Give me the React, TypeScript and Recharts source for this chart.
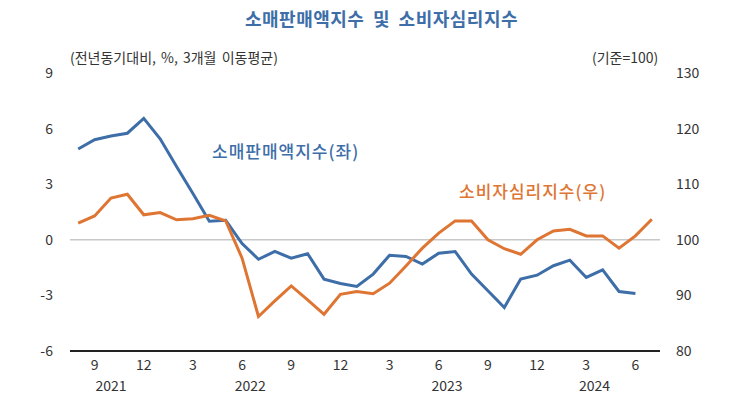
import { LineChart, Line, XAxis, YAxis, ReferenceLine } from 'recharts'

// monthly categories, Aug 2021 .. Jul 2024
const months = [
  '2021.08', '2021.09', '2021.10', '2021.11', '2021.12',
  '2022.01', '2022.02', '2022.03', '2022.04', '2022.05', '2022.06',
  '2022.07', '2022.08', '2022.09', '2022.10', '2022.11', '2022.12',
  '2023.01', '2023.02', '2023.03', '2023.04', '2023.05', '2023.06',
  '2023.07', '2023.08', '2023.09', '2023.10', '2023.11', '2023.12',
  '2024.01', '2024.02', '2024.03', '2024.04', '2024.05', '2024.06',
  '2024.07',
]

// 소매판매액지수 (전년동기대비 %, 3개월 이동평균) - left axis
const retailSales = [
  4.9, 5.4, 5.6, 5.75, 6.55,
  5.45, 3.95, 2.5, 1.0, 1.05, -0.2,
  -1.05, -0.63, -0.99, -0.75, -2.12, -2.36,
  -2.52, -1.85, -0.83, -0.9, -1.31, -0.72,
  -0.63, -1.85, -2.75, -3.65, -2.12, -1.91,
  -1.4, -1.1, -2.03, -1.62, -2.79, -2.9,
  null,
]

// 소비자심리지수 (기준=100) - right axis
const consumerSentiment = [
  103.0, 104.3, 107.5, 108.2, 104.5,
  104.9, 103.6, 103.8, 104.4, 103.4, 96.7,
  86.2, 89.0, 91.7, 89.2, 86.6, 90.2,
  90.7, 90.3, 92.2, 95.3, 98.5, 101.2,
  103.4, 103.4, 100.0, 98.4, 97.4, 100.0,
  101.6, 101.9, 100.7, 100.7, 98.5, 100.7,
  103.7,
]

const leftTicks = [-6, -3, 0, 3, 6, 9]
const rightTicks = [80, 90, 100, 110, 120, 130]

const data = months.map((m, i) => ({
  month: m,
  retail: retailSales[i],
  sentiment: consumerSentiment[i],
}))

const W = 747
const H = 418
const LEFT_W = 70
const RIGHT_W = 87
const BAND = (W - LEFT_W - RIGHT_W) / months.length

const KR = '"Noto Sans CJK KR", "Noto Sans", sans-serif'
const BLUE = '#3e6ea8'
const ORANGE = '#df7532'
const TEXT = '#333'

// year label sits at the middle of that year's month span
function yearCenters() {
  const byYear: Record<string, number[]> = {}
  months.forEach((m, i) => {
    const y = m.slice(0, 4)
    ;(byYear[y] = byYear[y] || []).push(i)
  })
  return Object.entries(byYear).map(([year, idx]) => {
    let last = idx[idx.length - 1]
    // last year: center on the labelled months only
    if (retailSales[last] == null) last -= 1
    return { year, center: (idx[0] + last) / 2 }
  })
}
const years = yearCenters()

function MonthTick(props: any) {
  const { x, y, payload, index } = props
  const mon = parseInt(String(payload.value).slice(5), 10)
  const yr = years.find((c) => Math.floor(c.center) === index)
  return (
    <g>
      {mon % 3 === 0 && (
        <text x={x} y={y + 19} textAnchor="middle" fontSize={14} fill={TEXT} fontFamily={KR}>
          {mon}
        </text>
      )}
      {yr && (
        <text
          x={x + (yr.center - Math.floor(yr.center)) * BAND}
          y={y + 40}
          textAnchor="middle"
          fontSize={14}
          fill={TEXT}
          fontFamily={KR}
        >
          {yr.year}
        </text>
      )}
    </g>
  )
}

export default function App() {
  return (
    <div style={{ position: 'absolute', left: 0, top: 0, width: W, height: H, background: '#fff', fontFamily: KR }}>
      <div style={{ position: 'absolute', left: 8, width: W, top: 5, textAlign: 'center', color: BLUE, fontSize: 18, fontWeight: 700, letterSpacing: 0.5, wordSpacing: 4 }}>
        소매판매액지수 및 소비자심리지수
      </div>
      <div style={{ position: 'absolute', left: 70, top: 47, color: TEXT, fontSize: 14, wordSpacing: 2 }}>
        (전년동기대비, %, 3개월 이동평균)
      </div>
      <div style={{ position: 'absolute', left: 592, top: 47, color: TEXT, fontSize: 14 }}>
        (기준=100)
      </div>
      <div style={{ position: 'absolute', left: 212, top: 138, color: BLUE, fontSize: 17, fontWeight: 500, letterSpacing: 1 }}>
        소매판매액지수(좌)
      </div>
      <div style={{ position: 'absolute', left: 459, top: 178, color: ORANGE, fontSize: 17, fontWeight: 500, letterSpacing: 1 }}>
        소비자심리지수(우)
      </div>
      <LineChart width={W} height={H} data={data} margin={{ top: 73, right: 0, bottom: 0, left: 0 }}>
        <XAxis
          dataKey="month"
          interval={0}
          height={67}
          padding={{ left: BAND / 2, right: BAND / 2 }}
          tickLine={false}
          tickSize={0}
          tickMargin={0}
          axisLine={{ stroke: '#222', strokeWidth: 2 }}
          tick={<MonthTick />}
        />
        <YAxis
          yAxisId="left"
          orientation="left"
          width={LEFT_W}
          domain={[-6, 9]}
          ticks={leftTicks}
          axisLine={false}
          tickLine={false}
          tickSize={0}
          tickMargin={17}
          tick={{ fontSize: 14, fill: TEXT, fontFamily: KR }}
        />
        <YAxis
          yAxisId="right"
          orientation="right"
          width={RIGHT_W}
          domain={[80, 130]}
          ticks={rightTicks}
          axisLine={false}
          tickLine={false}
          tickSize={0}
          tickMargin={16}
          tick={{ fontSize: 14, fill: TEXT, fontFamily: KR, textAnchor: 'start' }}
        />
        <ReferenceLine yAxisId="left" y={0} stroke="#c8c8c8" strokeWidth={1.5} />
        <Line
          yAxisId="left"
          dataKey="retail"
          stroke={BLUE}
          strokeWidth={3}
          dot={false}
          type="linear"
          isAnimationActive={false}
        />
        <Line
          yAxisId="right"
          dataKey="sentiment"
          stroke={ORANGE}
          strokeWidth={3}
          dot={false}
          type="linear"
          isAnimationActive={false}
        />
      </LineChart>
    </div>
  )
}
